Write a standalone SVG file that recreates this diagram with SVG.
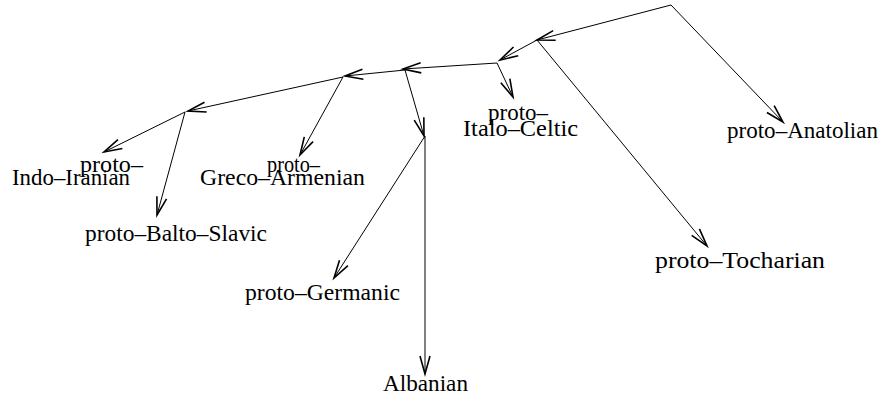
<svg xmlns="http://www.w3.org/2000/svg" width="883" height="398" viewBox="0 0 883 398">
<style>
.c line{stroke:#000;stroke-width:1;fill:none;marker-end:url(#ah)}
text{font-family:"Liberation Serif","Times New Roman",serif;font-size:23px;fill:#000}
</style>
<defs>
<marker id="ah" markerUnits="userSpaceOnUse" markerWidth="30" markerHeight="20" viewBox="-20 -10 22 20" refX="0" refY="0" orient="auto" overflow="visible">
<path d="M-18,-5 L0,0 L-18,5" fill="none" stroke="#000" stroke-width="1.6"/>
</marker>
</defs>
<rect width="883" height="398" fill="#fff"/>
<g class="c" id="connectors">
<line x1="671" y1="5" x2="537" y2="40"/>
<line x1="671" y1="5" x2="783" y2="122"/>
<line x1="537" y1="40" x2="500" y2="60"/>
<line x1="537" y1="40" x2="707" y2="246"/>
<line x1="497" y1="63" x2="513" y2="97"/>
<line x1="497" y1="63" x2="403" y2="69"/>
<line x1="405" y1="70" x2="424" y2="136"/>
<line x1="405" y1="70" x2="345" y2="76"/>
<line x1="425" y1="136" x2="425" y2="374"/>
<line x1="425" y1="136" x2="334" y2="278"/>
<line x1="343" y1="77" x2="300" y2="155"/>
<line x1="343" y1="77" x2="188" y2="111"/>
<line x1="185" y1="112" x2="104" y2="152"/>
<line x1="185" y1="112" x2="157" y2="215"/>
</g>
<g id="anatolian"><text x="727" y="138" textLength="151" lengthAdjust="spacingAndGlyphs">proto–Anatolian</text></g>
<g id="tocharian"><text x="655" y="268" textLength="170" lengthAdjust="spacingAndGlyphs">proto–Tocharian</text></g>
<g id="italo-celtic"><text x="488" y="120" textLength="60" lengthAdjust="spacingAndGlyphs">proto–</text><text x="463" y="136" textLength="115" lengthAdjust="spacingAndGlyphs">Italo–Celtic</text></g>
<g id="germanic"><text x="245" y="300" textLength="155" lengthAdjust="spacingAndGlyphs">proto–Germanic</text></g>
<g id="albanian"><text x="383" y="391" textLength="85" lengthAdjust="spacingAndGlyphs">Albanian</text></g>
<g id="balto-slavic"><text x="85" y="241" textLength="182" lengthAdjust="spacingAndGlyphs">proto–Balto–Slavic</text></g>
<g id="greco-armenian"><text x="267" y="172" textLength="53" lengthAdjust="spacingAndGlyphs">proto–</text><text x="200" y="185" textLength="165" lengthAdjust="spacingAndGlyphs">Greco–Armenian</text></g>
<g id="indo-iranian"><text x="80" y="172" textLength="63" lengthAdjust="spacingAndGlyphs">proto–</text><text x="12" y="185" textLength="118" lengthAdjust="spacingAndGlyphs">Indo–Iranian</text></g>
</svg>
